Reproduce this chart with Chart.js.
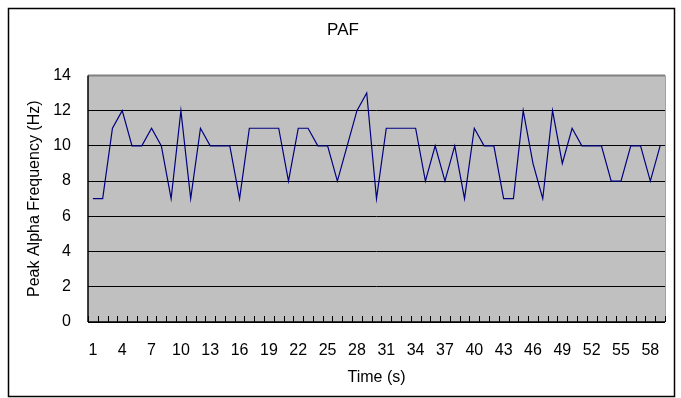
<!DOCTYPE html>
<html>
<head>
<meta charset="utf-8">
<script src="https://cdn.jsdelivr.net/npm/chart.js@4/dist/chart.umd.min.js"></script>
<style>
  html, body { margin: 0; padding: 0; background: #fff; }
  #wrap { width: 681px; height: 398px; position: relative; }
</style>
</head>
<body>
<div id="wrap"><canvas id="c" width="681" height="398"></canvas></div>
<script>
const titleText = "PAF";
const xTitle = "Time (s)";
const yTitle = "Peak Alpha Frequency (Hz)";
const categories = [];
for (let i = 1; i <= 59; i++) categories.push(String(i));
const pafValues = [7, 7, 11, 12, 10, 10, 11, 10, 7, 12,
                   7, 11, 10, 10, 10, 7, 11, 11, 11, 11,
                   8, 11, 11, 10, 10, 8, 10, 12, 13, 7,
                   11, 11, 11, 11, 8, 10, 8, 10, 7, 11,
                   10, 10, 7, 7, 12, 9, 7, 12, 9, 11,
                   10, 10, 10, 8, 8, 10, 10, 8, 10];
const yMin = 0, yMax = 14, yStep = 2;

const FONT = "'Liberation Sans', Arial, sans-serif";

const framePlugin = {
  id: 'frame',
  beforeDraw(chart) {
    const ctx = chart.ctx, a = chart.chartArea;
    ctx.save();
    ctx.fillStyle = '#ffffff';
    ctx.fillRect(0, 0, chart.width, chart.height);
    ctx.strokeStyle = '#000000';
    ctx.lineWidth = 1.5;
    ctx.strokeRect(8.5, 8.5, 666, 388);
    ctx.fillStyle = '#c0c0c0';
    ctx.fillRect(a.left, a.top, a.right - a.left, a.bottom - a.top);
    ctx.restore();
  },
  afterDatasetsDraw(chart) {
    const ctx = chart.ctx, a = chart.chartArea, xs = chart.scales.x;
    ctx.save();
    ctx.strokeStyle = '#808080';
    ctx.lineWidth = 2;
    ctx.beginPath();
    ctx.moveTo(a.left, a.top); ctx.lineTo(a.right, a.top);
    ctx.stroke();
    ctx.lineWidth = 1;
    ctx.strokeStyle = '#a0a0a0';
    ctx.beginPath();
    ctx.moveTo(a.right + 0.5, a.top); ctx.lineTo(a.right + 0.5, a.bottom);
    ctx.stroke();
    ctx.strokeStyle = '#000000';
    ctx.lineWidth = 1.5;
    ctx.beginPath();
    ctx.moveTo(a.left, a.top); ctx.lineTo(a.left, a.bottom);
    ctx.moveTo(a.left, a.bottom); ctx.lineTo(a.right, a.bottom);
    ctx.stroke();
    ctx.lineWidth = 1;
    const n = categories.length;
    const w = (a.right - a.left) / n;
    ctx.beginPath();
    for (let i = 0; i <= n; i++) {
      const x = Math.round(xs.getPixelForValue(i) - w / 2) + 0.5;
      ctx.moveTo(x, a.bottom);
      ctx.lineTo(x, a.bottom - 6);
    }
    ctx.stroke();
    ctx.restore();
  }
};

new Chart(document.getElementById('c'), {
  type: 'line',
  data: {
    labels: categories,
    datasets: [{
      data: pafValues,
      borderColor: '#000080',
      borderWidth: 1.2,
      pointRadius: 0,
      tension: 0,
      fill: false
    }]
  },
  options: {
    responsive: false,
    animation: false,
    devicePixelRatio: 1,
    layout: { padding: { left: 21, right: 16, top: 0, bottom: 0 } },
    plugins: {
      legend: { display: false },
      tooltip: { enabled: false },
      title: {
        display: true,
        text: titleText,
        color: '#000',
        font: { family: FONT, size: 17, weight: 'normal' },
        padding: { top: 20, bottom: 35 }
      }
    },
    scales: {
      x: {
        type: 'category',
        offset: true,
        grid: { display: false, drawTicks: false },
        border: { display: false },
        ticks: {
          autoSkip: false,
          maxRotation: 0,
          minRotation: 0,
          color: '#000',
          padding: 19,
          font: { family: FONT, size: 16 },
          callback: function (v, i) { return i % 3 === 0 ? categories[i] : ''; }
        },
        title: {
          display: true,
          text: xTitle,
          color: '#000',
          font: { family: FONT, size: 16 },
          padding: { top: 8, bottom: 11 }
        },
        afterFit(scale) { scale.height = 76; }
      },
      y: {
        min: yMin,
        max: yMax,
        grid: {
          color: (c) => (c.tick && c.tick.value === yMax ? 'rgba(0,0,0,0)' : '#000000'),
          lineWidth: 1,
          drawTicks: false
        },
        border: { display: false },
        ticks: {
          stepSize: yStep,
          color: '#000',
          padding: 17,
          font: { family: FONT, size: 16 }
        },
        title: {
          display: true,
          text: yTitle,
          color: '#000',
          font: { family: FONT, size: 16 },
          padding: { top: 4, bottom: 0 }
        },
        afterFit(scale) { scale.width = 67; }
      }
    }
  },
  plugins: [framePlugin]
});
</script>
</body>
</html>
